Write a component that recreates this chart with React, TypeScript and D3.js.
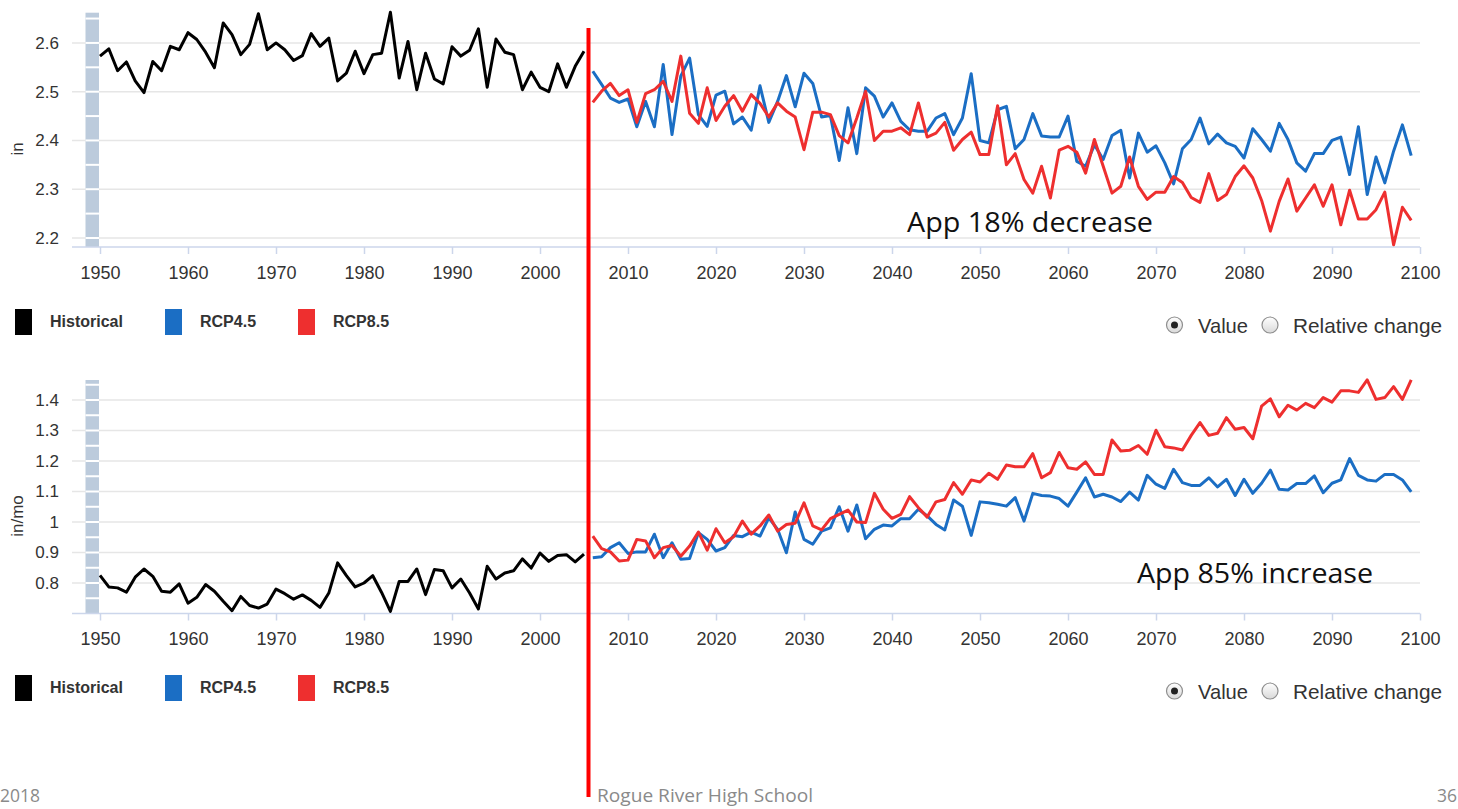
import * as d3 from 'd3';
import { useEffect, useRef } from 'react';

// categories
const historicalYears = d3.range(1950, 2006);
const projectedYears = d3.range(2006, 2100);
const yearTicks = [1950, 1960, 1970, 1980, 1990, 2000, 2010, 2020, 2030, 2040, 2050, 2060, 2070, 2080, 2090, 2100];

// top panel (in)
const precipHistorical = [
  2.573, 2.588, 2.543, 2.561, 2.522, 2.498, 2.562, 2.543, 2.593, 2.586,
  2.621, 2.607, 2.581, 2.549, 2.641, 2.617, 2.576, 2.597, 2.66, 2.586,
  2.6, 2.586, 2.564, 2.574, 2.619, 2.593, 2.61, 2.522, 2.538, 2.583,
  2.537, 2.576, 2.579, 2.663, 2.528, 2.603, 2.504, 2.579, 2.526, 2.516,
  2.592, 2.573, 2.585, 2.629, 2.509, 2.608, 2.581, 2.576, 2.504, 2.54,
  2.509, 2.5, 2.557, 2.509, 2.552, 2.583,
];
const precipRcp45 = [
  2.542, 2.515, 2.487, 2.478, 2.485, 2.428, 2.48, 2.428, 2.556, 2.412,
  2.532, 2.569, 2.453, 2.429, 2.493, 2.501, 2.434, 2.448, 2.421, 2.512,
  2.437, 2.48, 2.533, 2.469, 2.538, 2.517, 2.448, 2.451, 2.359, 2.467,
  2.373, 2.508, 2.491, 2.448, 2.477, 2.439, 2.422, 2.419, 2.419, 2.446,
  2.455, 2.412, 2.446, 2.537, 2.4, 2.395, 2.463, 2.47, 2.383, 2.402,
  2.455, 2.409, 2.407, 2.407, 2.45, 2.357, 2.347, 2.391, 2.361, 2.41,
  2.421, 2.323, 2.415, 2.376, 2.389, 2.354, 2.311, 2.383, 2.402, 2.446,
  2.393, 2.413, 2.395, 2.388, 2.364, 2.424, 2.402, 2.378, 2.435, 2.402,
  2.354, 2.337, 2.373, 2.373, 2.4, 2.407, 2.33, 2.428, 2.289, 2.366,
  2.313, 2.378, 2.432, 2.369,
];
const precipRcp85 = [
  2.478, 2.501, 2.517, 2.492, 2.504, 2.437, 2.496, 2.504, 2.521, 2.48,
  2.573, 2.456, 2.435, 2.508, 2.441, 2.47, 2.492, 2.46, 2.494, 2.476,
  2.448, 2.477, 2.46, 2.448, 2.381, 2.458, 2.458, 2.453, 2.41, 2.395,
  2.446, 2.501, 2.4, 2.419, 2.419, 2.426, 2.412, 2.477, 2.407, 2.415,
  2.437, 2.38, 2.402, 2.417, 2.371, 2.371, 2.471, 2.35, 2.373, 2.32,
  2.292, 2.347, 2.282, 2.38, 2.388, 2.376, 2.333, 2.402, 2.347, 2.292,
  2.306, 2.366, 2.306, 2.279, 2.294, 2.294, 2.326, 2.314, 2.283, 2.273,
  2.332, 2.277, 2.289, 2.326, 2.348, 2.323, 2.277, 2.214, 2.275, 2.321,
  2.255, 2.282, 2.309, 2.265, 2.309, 2.227, 2.298, 2.239, 2.239, 2.258,
  2.294, 2.186, 2.263, 2.236,
];
const precipTicks = [2.2, 2.3, 2.4, 2.5, 2.6];

// bottom panel (in/mo)
const rateHistorical = [
  0.825, 0.787, 0.784, 0.77, 0.819, 0.846, 0.822, 0.773, 0.77, 0.797,
  0.734, 0.753, 0.795, 0.773, 0.74, 0.709, 0.756, 0.726, 0.718, 0.731,
  0.78, 0.765, 0.747, 0.761, 0.743, 0.72, 0.767, 0.866, 0.824, 0.787,
  0.8, 0.824, 0.769, 0.707, 0.805, 0.805, 0.846, 0.762, 0.844, 0.84,
  0.784, 0.813, 0.767, 0.715, 0.855, 0.813, 0.833, 0.84, 0.879, 0.849,
  0.898, 0.871, 0.89, 0.893, 0.869, 0.895,
];
const rateRcp45 = [
  0.883, 0.886, 0.916, 0.932, 0.897, 0.902, 0.902, 0.96, 0.883, 0.932,
  0.878, 0.88, 0.965, 0.943, 0.905, 0.916, 0.956, 0.952, 0.967, 0.954,
  1.014, 0.976, 0.899, 1.033, 0.943, 0.927, 0.97, 0.981, 1.05, 0.97,
  1.056, 0.945, 0.976, 0.99, 0.987, 1.011, 1.011, 1.042, 1.02, 0.992,
  0.974, 1.072, 1.052, 0.956, 1.066, 1.063, 1.058, 1.052, 1.08, 1.003,
  1.094, 1.087, 1.085, 1.077, 1.052, 1.098, 1.145, 1.082, 1.091, 1.082,
  1.067, 1.098, 1.072, 1.153, 1.124, 1.11, 1.173, 1.129, 1.12, 1.12,
  1.145, 1.115, 1.14, 1.087, 1.14, 1.094, 1.127, 1.17, 1.107, 1.105,
  1.126, 1.126, 1.151, 1.096, 1.127, 1.138, 1.208, 1.153, 1.138, 1.134,
  1.156, 1.156, 1.138, 1.099,
];
const rateRcp85 = [
  0.954, 0.913, 0.902, 0.872, 0.875, 0.943, 0.938, 0.883, 0.916, 0.923,
  0.888, 0.921, 0.967, 0.908, 0.978, 0.932, 0.952, 1.003, 0.96, 0.987,
  1.023, 0.97, 0.992, 0.996, 1.063, 0.987, 0.974, 1.011, 1.025, 1.039,
  1.0, 0.998, 1.094, 1.042, 1.012, 1.025, 1.083, 1.047, 1.016, 1.066,
  1.074, 1.129, 1.091, 1.138, 1.131, 1.16, 1.14, 1.187, 1.181, 1.181,
  1.224, 1.145, 1.162, 1.228, 1.178, 1.173, 1.197, 1.156, 1.156, 1.269,
  1.233, 1.235, 1.251, 1.222, 1.301, 1.247, 1.243, 1.236, 1.284, 1.326,
  1.284, 1.291, 1.342, 1.304, 1.31, 1.273, 1.38, 1.404, 1.345, 1.383,
  1.367, 1.389, 1.375, 1.408, 1.393, 1.43, 1.43, 1.425, 1.466, 1.402,
  1.408, 1.444, 1.402, 1.466,
];
const rateTicks = [0.8, 0.9, 1, 1.1, 1.2, 1.3, 1.4];

const seriesNames = ['Historical', 'RCP4.5', 'RCP8.5'];
const seriesColors = ['#000000', '#1b6ec4', '#ee2f2f'];
const radioLabels = ['Value', 'Relative change'];

const FONT = "'Liberation Sans', Arial, Helvetica, sans-serif";
const NOTE_FONT = "'Open Sans', 'Noto Sans', sans-serif";

interface Panel {
  offset: number;
  domain: [number, number];
  range: [number, number];
  ticks: number[];
  notchStep: number;
  unit: string;
  unitY: number;
  historical: number[];
  rcp45: number[];
  rcp85: number[];
  note: string;
  noteX: number;
  noteY: number;
  noteLength: number;
}

const panels: Panel[] = [
  {
    offset: 0,
    domain: [2.1815, 2.662],
    range: [247, 12.7],
    ticks: precipTicks,
    notchStep: 0.05,
    unit: 'in',
    unitY: 149,
    historical: precipHistorical,
    rcp45: precipRcp45,
    rcp85: precipRcp85,
    note: 'App 18% decrease',
    noteX: 907,
    noteY: 232,
    noteLength: 246,
  },
  {
    offset: 366,
    domain: [0.7, 1.4656],
    range: [613.5, 380],
    ticks: rateTicks,
    notchStep: 0.05,
    unit: 'in/mo',
    unitY: 516,
    historical: rateHistorical,
    rcp45: rateRcp45,
    rcp85: rateRcp85,
    note: 'App 85% increase',
    noteX: 1137,
    noteY: 583,
    noteLength: 236,
  },
];

type Sel = d3.Selection<SVGSVGElement, unknown, null, undefined>;

function drawPanel(svg: Sel, x: d3.ScaleLinear<number, number>, p: Panel) {
  const g = svg.append('g');
  const y = d3.scaleLinear().domain(p.domain).range(p.range);
  const [bottom, top] = p.range;
  const gridLeft = 72;
  const gridRight = x(2100);

  // gridlines
  g.selectAll('.grid')
    .data(p.ticks)
    .join('line')
    .attr('class', 'grid')
    .attr('x1', gridLeft)
    .attr('x2', gridRight)
    .attr('y1', (d) => y(d))
    .attr('y2', (d) => y(d))
    .attr('stroke', '#e6e6e6')
    .attr('stroke-width', 1.5);

  // y labels
  const yAxis = g
    .append('g')
    .attr('transform', `translate(${gridLeft},0)`)
    .call(
      d3
        .axisLeft(y)
        .tickValues(p.ticks)
        .tickSize(0)
        .tickPadding(13)
        .tickFormat((d) => String(d)),
    );
  yAxis.select('.domain').remove();
  yAxis.attr('font-size', 17).attr('font-family', FONT);
  yAxis.selectAll('text').attr('fill', '#333');

  // shaded band at the left edge
  g.append('rect')
    .attr('x', 85.5)
    .attr('y', top)
    .attr('width', 13.5)
    .attr('height', bottom - top)
    .attr('fill', '#bccbdc');
  const notches: number[] = [];
  for (let i = 0; ; i++) {
    const v = p.ticks[0] - 0.05 * 2 + i * p.notchStep;
    if (y(v) < top + 2) break;
    if (y(v) < bottom - 2) notches.push(v);
  }
  g.selectAll('.notch')
    .data(notches)
    .join('line')
    .attr('class', 'notch')
    .attr('x1', 85.5)
    .attr('x2', 99)
    .attr('y1', (d) => y(d))
    .attr('y2', (d) => y(d))
    .attr('stroke', '#ffffff')
    .attr('stroke-width', 2);

  // x axis
  g.append('line')
    .attr('x1', gridLeft)
    .attr('x2', gridRight)
    .attr('y1', bottom)
    .attr('y2', bottom)
    .attr('stroke', '#ccd6eb')
    .attr('stroke-width', 1.5);
  const xAxis = g
    .append('g')
    .attr('transform', `translate(0,${bottom})`)
    .call(
      d3
        .axisBottom(x)
        .tickValues(yearTicks)
        .tickSize(7)
        .tickPadding(12)
        .tickFormat(d3.format('d')),
    );
  xAxis.select('.domain').remove();
  xAxis.attr('font-size', 18).attr('font-family', FONT);
  xAxis.selectAll('line').attr('stroke', '#ccd6eb').attr('stroke-width', 1.5);
  xAxis.selectAll('text').attr('fill', '#333');

  // axis title
  g.append('text')
    .attr('transform', `translate(17,${p.unitY}) rotate(-90)`)
    .attr('text-anchor', 'middle')
    .attr('dy', '0.35em')
    .attr('font-family', FONT)
    .attr('font-size', 17)
    .attr('fill', '#333')
    .text(p.unit);

  // series
  const line = d3
    .line<[number, number]>()
    .x((d) => x(d[0]))
    .y((d) => y(d[1]));
  const series: [number[], number[], string][] = [
    [historicalYears, p.historical, seriesColors[0]],
    [projectedYears, p.rcp45, seriesColors[1]],
    [projectedYears, p.rcp85, seriesColors[2]],
  ];
  series.forEach(([years, values, color]) => {
    g.append('path')
      .datum(years.map((yr, i) => [yr, values[i]] as [number, number]))
      .attr('d', line)
      .attr('fill', 'none')
      .attr('stroke', color)
      .attr('stroke-width', 3)
      .attr('stroke-linejoin', 'round');
  });

  // legend
  const legendRectX = [15, 165, 298];
  const legendTextX = [50, 200, 333];
  seriesNames.forEach((name, i) => {
    g.append('rect')
      .attr('x', legendRectX[i])
      .attr('y', 309 + p.offset)
      .attr('width', 17)
      .attr('height', 26)
      .attr('fill', seriesColors[i]);
    g.append('text')
      .attr('x', legendTextX[i])
      .attr('y', 327 + p.offset)
      .attr('font-family', FONT)
      .attr('font-size', 16)
      .attr('font-weight', 'bold')
      .attr('fill', '#333')
      .text(name);
  });

  // radio buttons
  const radioX = [1174.5, 1270];
  const radioTextX = [1198, 1293];
  const radioLen = [50, 149];
  radioLabels.forEach((label, i) => {
    g.append('circle')
      .attr('cx', radioX[i])
      .attr('cy', 325 + p.offset)
      .attr('r', 8)
      .attr('fill', 'url(#radioFill)')
      .attr('stroke', '#8e8e8e')
      .attr('stroke-width', 1.2);
    if (i === 0) {
      g.append('circle')
        .attr('cx', radioX[i])
        .attr('cy', 325 + p.offset)
        .attr('r', 3.5)
        .attr('fill', '#222');
    }
    g.append('text')
      .attr('x', radioTextX[i])
      .attr('y', 332.5 + p.offset)
      .attr('font-family', FONT)
      .attr('font-size', 21)
      .attr('fill', '#333')
      .attr('textLength', radioLen[i])
      .attr('lengthAdjust', 'spacingAndGlyphs')
      .text(label);
  });

  // annotation
  g.append('text')
    .attr('x', p.noteX)
    .attr('y', p.noteY)
    .attr('font-family', NOTE_FONT)
    .attr('font-size', 28)
    .attr('fill', '#111')
    .attr('textLength', p.noteLength)
    .attr('lengthAdjust', 'spacingAndGlyphs')
    .text(p.note);
}

function App() {
  const svgElement = useRef<SVGSVGElement | null>(null);

  useEffect(() => {
    if (!svgElement.current) return;
    const svg = d3.select(svgElement.current);
    svg.selectAll('*').remove();

    const x = d3.scaleLinear().domain([1950, 2100]).range([100, 1420]);

    const grad = svg
      .append('defs')
      .append('linearGradient')
      .attr('id', 'radioFill')
      .attr('x1', 0)
      .attr('y1', 0)
      .attr('x2', 0)
      .attr('y2', 1);
    grad.append('stop').attr('offset', '0%').attr('stop-color', '#ffffff');
    grad.append('stop').attr('offset', '100%').attr('stop-color', '#d9d9d9');

    panels.forEach((p) => drawPanel(svg, x, p));

    // red divider
    svg
      .append('line')
      .attr('x1', 588.5)
      .attr('x2', 588.5)
      .attr('y1', 28)
      .attr('y2', 797)
      .attr('stroke', '#ff0000')
      .attr('stroke-width', 4);

    // slide footer
    const footer = [
      { text: '2018', x: 0, len: 40 },
      { text: 'Rogue River High School', x: 597, len: 216 },
      { text: '36', x: 1437, len: 20 },
    ];
    svg
      .selectAll('.footer')
      .data(footer)
      .join('text')
      .attr('class', 'footer')
      .attr('x', (d) => d.x)
      .attr('y', 802)
      .attr('font-family', NOTE_FONT)
      .attr('font-size', 19)
      .attr('fill', '#8a8a8a')
      .attr('textLength', (d) => d.len)
      .attr('lengthAdjust', 'spacingAndGlyphs')
      .text((d) => d.text);
  }, []);

  return (
    <svg
      ref={svgElement}
      width={1458}
      height={809}
      style={{ position: 'absolute', left: 0, top: 0, background: '#ffffff' }}
    />
  );
}

export default App;
